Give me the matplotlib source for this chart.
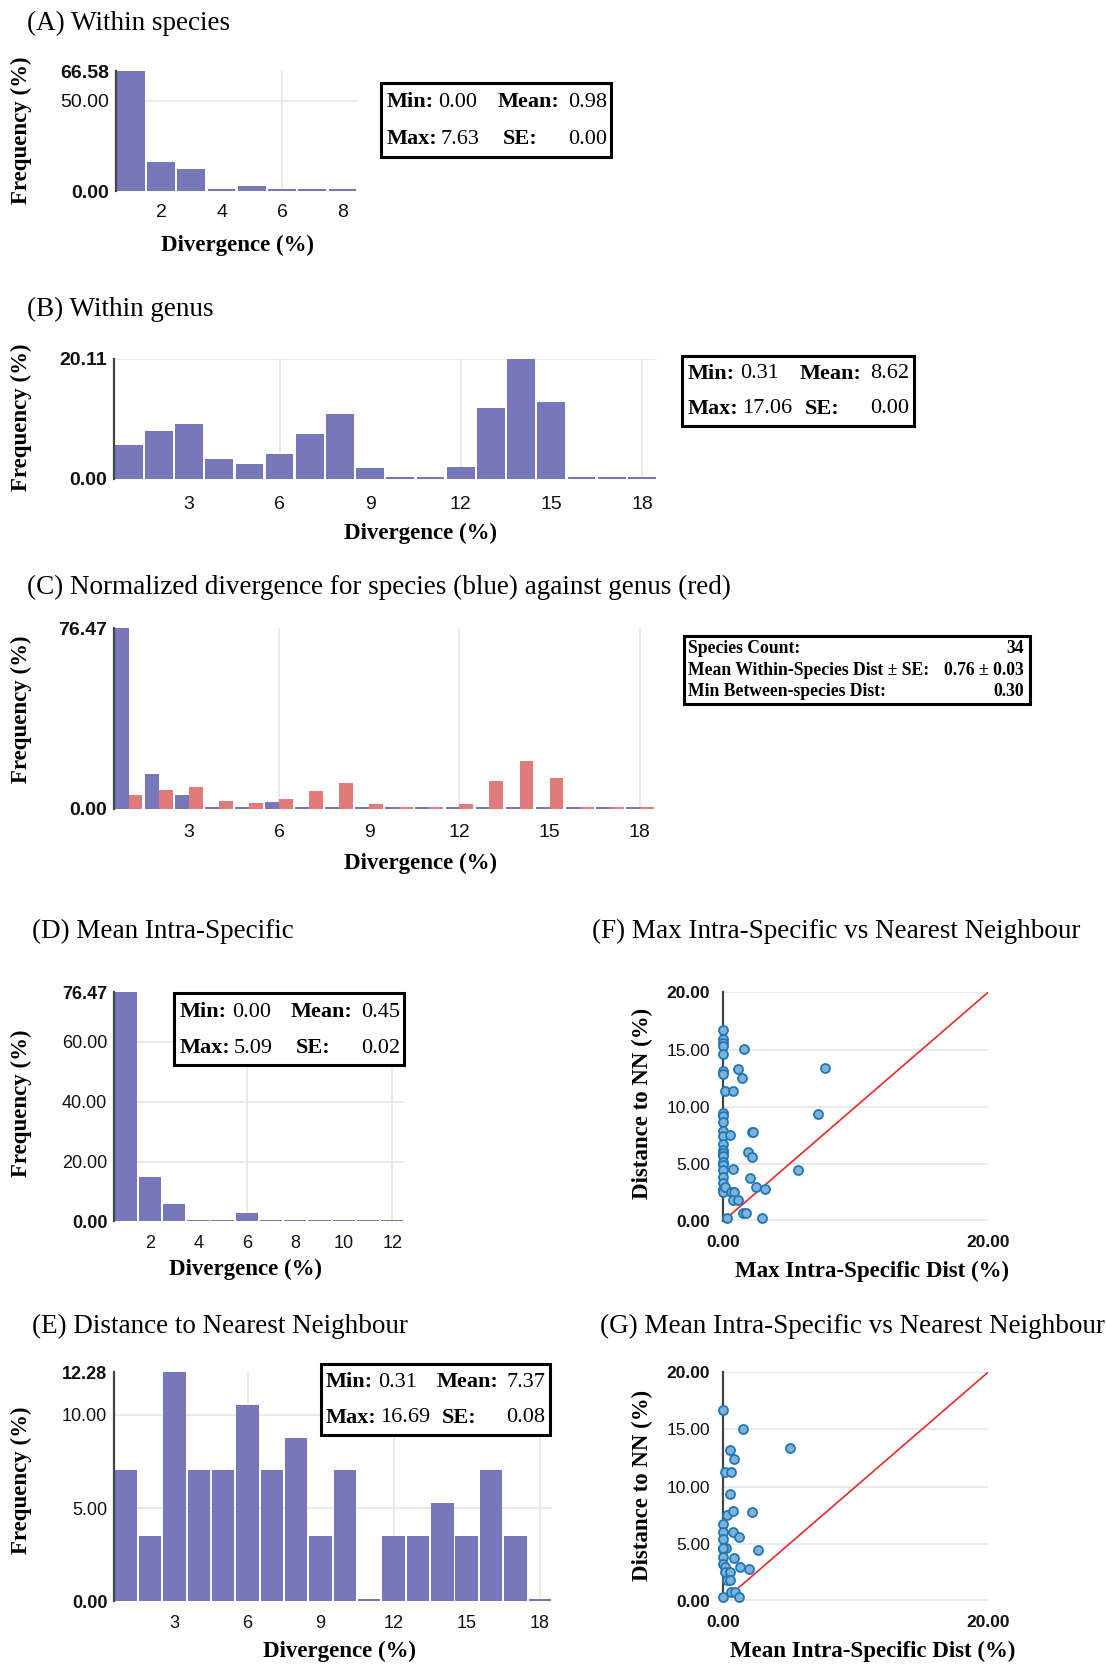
import matplotlib
matplotlib.use('Agg')
import matplotlib.pyplot as plt
from matplotlib.patches import Rectangle
import numpy as np

# ---------------- data ----------------
a_vals = [66.58, 16.3, 12.0, 1.1, 2.6, 0.0, 0.0, 0.0]
a_xticks = [2, 4, 6, 8]
a_yticks = [0.0, 50.0, 66.58]
a_stats = ['0.00', '0.98', '7.63', '0.00']

b_vals = [5.6, 7.95, 9.24, 3.25, 2.52, 4.09, 7.56, 10.87, 1.79, 0.0, 0.0,
          2.02, 11.76, 20.11, 12.88, 0.0, 0.0, 0.0]
b_xticks = [3, 6, 9, 12, 15, 18]
b_yticks = [0.0, 20.11]
b_stats = ['0.31', '8.62', '17.06', '0.00']

c_species = [76.47, 14.71, 5.88, 0.0, 0.0, 2.94, 0.0, 0.0, 0.0, 0.0, 0.0,
             0.0, 0.0, 0.0, 0.0, 0.0, 0.0, 0.0]
c_genus = b_vals
c_xticks = [3, 6, 9, 12, 15, 18]
c_yticks = [0.0, 76.47]
c_labels = ['Species Count:', 'Mean Within-Species Dist \u00b1 SE:', 'Min Between-species Dist:']
c_values = ['34', '0.76 \u00b1 0.03', '0.30']

d_vals = [76.47, 14.71, 5.88, 0.0, 0.0, 2.94, 0.0, 0.0, 0.0, 0.0, 0.0, 0.0]
d_xticks = [2, 4, 6, 8, 10, 12]
d_yticks = [0.0, 20.0, 40.0, 60.0, 76.47]
d_stats = ['0.00', '0.45', '5.09', '0.02']

e_vals = [7.02, 3.51, 12.28, 7.02, 7.02, 10.53, 7.02, 8.77, 3.51, 7.02, 0.0,
          3.51, 3.51, 5.26, 3.51, 7.02, 3.51, 0.0]
e_xticks = [3, 6, 9, 12, 15, 18]
e_yticks = [0.0, 5.0, 10.0, 12.28]
e_stats = ['0.31', '7.37', '16.69', '0.08']

f_x = [0, 0, 0, 0, 0, 0, 0, 0, 0, 0, 0, 0, 0, 0, 0, 0, 0, 0, 0, 0, 0, 0, 0,
       1.57, 1.11, 1.42, 0.15, 0.78, 7.14, 7.7, 0.51, 2.17, 2.24, 1.9, 2.2,
       0.78, 5.65, 2.05, 2.53, 3.16, 0.2, 0.63, 0.81, 0.76, 1.11, 1.52, 1.72,
       0.3, 2.99]
f_y = [16.7, 15.9, 15.6, 15.3, 14.6, 13.1, 12.9, 9.45, 9.2, 8.7, 7.85, 7.47,
       6.75, 6.25, 5.96, 5.67, 5.23, 4.94, 4.5, 3.92, 3.4, 2.8, 2.53,
       15.06, 13.28, 12.5, 11.34, 11.34, 9.36, 13.43, 7.53, 7.82, 7.82, 6.1, 5.61,
       4.62, 4.45, 3.8, 2.99, 2.82, 3.05, 2.53, 2.53, 1.86, 1.86, 0.78, 0.78,
       0.29, 0.29]

g_x = [0.0, 1.54, 0.56, 0.81, 0.13, 0.63, 0.58, 0.30, 0.78, 2.2, 0.0, 0.0,
       0.78, 1.24, 0.0, 0.0, 0.25, 2.65, 0.0, 0.81, 0.0, 0.13, 1.31, 1.97,
       0.13, 0.56, 0.30, 0.56, 0.63, 0.89, 0.05, 1.21, 5.08, 0.0]
g_y = [16.7, 15.04, 13.25, 12.46, 11.3, 11.3, 9.36, 7.5, 7.86, 7.83, 6.78, 6.09,
       6.09, 5.59, 5.45, 4.55, 4.64, 4.46, 3.83, 3.8, 3.3, 2.96, 2.99, 2.84,
       2.55, 2.55, 1.88, 1.88, 0.84, 0.84, 0.35, 0.35, 13.4, 4.64]
sc_yticks = [0, 5, 10, 15, 20]
sc_xticks = [0, 20]

# ---------------- styling ----------------
SERIF = 'Liberation Serif'
SANS = 'Liberation Sans'
BAR = '#7777BB'
RED = '#E07B7B'
GRID = '#E6E6E6'
plt.rcParams['font.family'] = [SANS, 'DejaVu Sans']

W, H = 1043.0, 1568.0
fig = plt.figure(figsize=(11.07, 16.64), dpi=100)


def fx(x):
    return x / W


def fy(y):
    return 1 - y / H


def add_ax(l, t, r, b):
    return fig.add_axes([fx(l), fy(b), (r - l) / W, (b - t) / H])


def ftext(x, y, s, **kw):
    kw.setdefault('zorder', 10)
    fig.text(fx(x), fy(y), s, **kw)


def title(x, y, s):
    ftext(x, y, s, family=SERIF, fontsize=19.5, ha='left', va='center')


def xlabel(x, y, s):
    ftext(x, y, s, family=SERIF, fontsize=16.5, weight='bold', ha='center', va='center')


def ylabel(x, y, s):
    ftext(x, y, s, family=SERIF, fontsize=16.5, weight='bold', ha='center', va='center',
          rotation=90)


def style_axes(ax, ymax, yticks, fs, ypad, xpad, hgrid, vlines):
    for s in ['top', 'right', 'bottom']:
        ax.spines[s].set_visible(False)
    ax.spines['left'].set_color('#444444')
    ax.spines['left'].set_linewidth(1.6)
    ax.spines['left'].set_zorder(4)
    ax.set_ylim(0, ymax)
    ax.set_yticks(yticks)
    ax.set_yticklabels([f'{v:.2f}' for v in yticks])
    for lab, v in zip(ax.get_yticklabels(), yticks):
        lab.set_fontweight('bold' if (v == 0 or v == ymax) else 'normal')
    ax.tick_params(axis='y', length=0, labelsize=fs, pad=ypad, colors='#111111')
    ax.tick_params(axis='x', length=0, labelsize=fs, pad=xpad, colors='#111111')
    for v in hgrid:
        ax.axhline(v, color=GRID, lw=1.2, zorder=0)
    for v in vlines:
        ax.axvline(v, color=GRID, lw=1.2, zorder=0)


def bar_panel(box, vals, yticks, xticks, fs, xpad, hgrid):
    ax = add_ax(*box)
    n = len(vals)
    ymax = yticks[-1]
    ax_h_px = (box[3] - box[1])
    floor = ymax * 1.8 / ax_h_px
    x = np.arange(1, n + 1)
    h = np.maximum(np.array(vals, dtype=float), floor)
    ax.bar(x, h, width=0.92, color=BAR, zorder=2)
    ax.set_xlim(0.5, n + 0.5)
    ax.set_xticks(xticks)
    ax.set_xticklabels([str(v) for v in xticks])
    style_axes(ax, ymax, yticks, fs, 4.5, xpad, hgrid, list(range(6, n + 1, 6)))
    return ax


def draw_frame(l, t, r, b):
    fig.add_artist(Rectangle((fx(l), fy(b)), (r - l) / W, (b - t) / H,
                             transform=fig.transFigure, facecolor='white',
                             edgecolor='black', lw=2.2, zorder=5))


def stat_box(l, t, r, b, vals, fs=16):
    draw_frame(l, t, r, b)
    w = r - l
    r1 = t + 0.26 * (b - t)
    r2 = t + 0.76 * (b - t)
    kw = dict(family=SERIF, fontsize=fs, va='center')
    ftext(l + 5, r1, 'Min:', weight='bold', ha='left', **kw)
    ftext(l + 0.25 * w, r1, vals[0], ha='left', **kw)
    ftext(l + 0.505 * w, r1, 'Mean:', weight='bold', ha='left', **kw)
    ftext(r - 4, r1, vals[1], ha='right', **kw)
    ftext(l + 5, r2, 'Max:', weight='bold', ha='left', **kw)
    ftext(l + 0.258 * w, r2, vals[2], ha='left', **kw)
    ftext(l + 0.53 * w, r2, 'SE:', weight='bold', ha='left', **kw)
    ftext(r - 4, r2, vals[3], ha='right', **kw)


# ---------------- (A) ----------------
title(25, 22, '(A) Within species')
bar_panel((109, 67, 337, 180), a_vals, a_yticks, a_xticks, 14, 9, [50.0])
ylabel(20, 123, 'Frequency (%)')
xlabel(224, 231, 'Divergence (%)')
stat_box(359, 78, 576, 148, a_stats)

# ---------------- (B) ----------------
title(25, 292, '(B) Within genus')
bar_panel((107, 338, 619, 451), b_vals, b_yticks, b_xticks, 14, 12.5, [20.11])
ylabel(20, 393, 'Frequency (%)')
xlabel(396, 503, 'Divergence (%)')
stat_box(643, 335, 861, 401, b_stats)

# ---------------- (C) ----------------
title(25, 554, '(C) Normalized divergence for species (blue) against genus (red)')
cbox = (107, 592, 617, 762)
axc = add_ax(*cbox)
n = len(c_species)
ymax_c = c_yticks[-1]
floor_c = ymax_c * 1.8 / (cbox[3] - cbox[1])
xc = np.arange(1, n + 1)
axc.bar(xc - 0.23, np.maximum(np.array(c_species), floor_c), width=0.46, color=BAR, zorder=2)
axc.bar(xc + 0.23, np.maximum(np.array(c_genus), floor_c), width=0.46, color=RED, zorder=2)
axc.set_xlim(0.5, n + 0.5)
axc.set_xticks(c_xticks)
axc.set_xticklabels([str(v) for v in c_xticks])
style_axes(axc, ymax_c, c_yticks, 14, 4.5, 11, [], [6, 12, 18])
ylabel(20, 668, 'Frequency (%)')
xlabel(396, 814, 'Divergence (%)')
l, t, r, b = 644, 599, 970, 663
draw_frame(l, t, r, b)
for i, (lab, val) in enumerate(zip(c_labels, c_values)):
    yy = 611 + i * 20.5
    ftext(l + 4, yy, lab, family=SERIF, fontsize=12.7, weight='bold', ha='left', va='center')
    ftext(r - 5, yy, val, family=SERIF, fontsize=12.7, weight='bold', ha='right', va='center')

# ---------------- (D) ----------------
title(30, 878, '(D) Mean Intra-Specific')
bar_panel((107, 935, 381, 1151), d_vals, d_yticks, d_xticks, 13, 9.5, [20.0, 40.0, 60.0])
ylabel(20, 1040, 'Frequency (%)')
xlabel(231, 1196, 'Divergence (%)')
stat_box(164, 936, 381, 1004, d_stats)

# ---------------- (E) ----------------
title(30, 1250, '(E) Distance to Nearest Neighbour')
bar_panel((107, 1293, 520, 1509), e_vals, e_yticks, e_xticks, 13, 9.5, [5.0, 10.0])
ylabel(20, 1395, 'Frequency (%)')
xlabel(320, 1556, 'Divergence (%)')
stat_box(302, 1285, 518, 1352, e_stats)


# ---------------- scatter panels ----------------
def scatter_panel(box, xs, ys):
    ax = add_ax(*box)
    ax.set_xlim(0, 20)
    ax.plot([0, 20], [0, 20], color='#E8282B', lw=1.2, zorder=3)
    ax.scatter(xs, ys, s=42, facecolor='#7FB2DB', edgecolor='#1F77B4',
               linewidths=1.3, zorder=5, clip_on=False)
    style_axes(ax, 20, sc_yticks, 12.5, 9, 10, [0.15, 5, 10, 15, 20], [])
    ax.set_xticks(sc_xticks)
    ax.set_xticklabels([f'{v:.2f}' for v in sc_xticks], fontweight='bold')
    return ax


title(558, 878, '(F) Max Intra-Specific vs Nearest Neighbour')
scatter_panel((681, 935, 931, 1151), f_x, f_y)
ylabel(605, 1040, 'Distance to NN (%)')
xlabel(822, 1198, 'Max Intra-Specific Dist (%)')

title(565, 1250, '(G) Mean Intra-Specific vs Nearest Neighbour')
scatter_panel((681, 1293, 931, 1509), g_x, g_y)
ylabel(605, 1400, 'Distance to NN (%)')
xlabel(822, 1556, 'Mean Intra-Specific Dist (%)')

fig.savefig('out.png', dpi=100)
